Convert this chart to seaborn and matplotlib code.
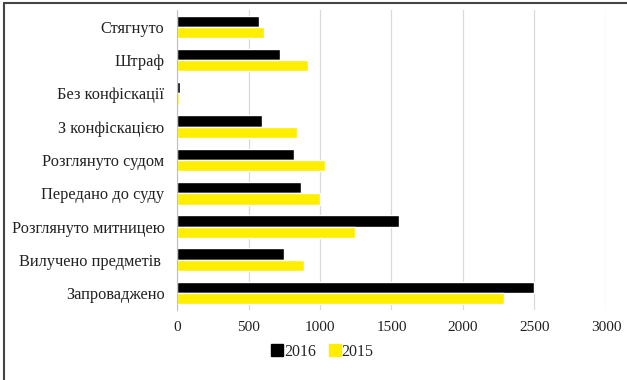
import pandas as pd
import numpy as np
import seaborn as sns
import matplotlib.pyplot as plt
from matplotlib.lines import Line2D

# Дані
categories = ['Стягнуто', 'Штраф', 'Без конфіскації', 'З конфіскацією', 'Розглянуто судом',
              'Передано до суду', 'Розглянуто митницею', 'Вилучено предметів ', 'Запроваджено']
values_2016 = [575, 720, 20, 595, 815, 865, 1555, 750, 2495]
values_2015 = [610, 918, 15, 838, 1035, 1000, 1247, 890, 2285]
years = ['2016', '2015']
colors = ['#000000', '#FFEE00']

df = pd.DataFrame({
    'Категорія': categories * 2,
    'Рік': ['2016'] * len(categories) + ['2015'] * len(categories),
    'Значення': values_2016 + values_2015,
})

sns.set_style("white")
plt.rcParams['font.family'] = ['Liberation Serif', 'DejaVu Serif']

fig = plt.figure(figsize=(6.27, 3.8), dpi=100)
ax = fig.add_axes([0.2823, 0.185, 0.6842, 0.788])

sns.barplot(data=df, y='Категорія', x='Значення', hue='Рік', hue_order=years,
            palette=colors, saturation=1, orient='h', width=0.68, order=categories, ax=ax,
            legend=False, errorbar=None)

ax.set_xlim(0, 3000)
ax.set_xticks(np.arange(0, 3001, 500))
ax.set_xlabel('')
ax.set_ylabel('')
ax.xaxis.grid(True, color='#d9d9d9', linewidth=0.9)
ax.set_axisbelow(True)
for s in ['top', 'right', 'bottom']:
    ax.spines[s].set_visible(False)
ax.spines['left'].set_color('#bfbfbf')
ax.tick_params(axis='both', length=0, colors='#222222')
ax.tick_params(axis='x', pad=8, labelsize=11)
ax.tick_params(axis='y', pad=9, labelsize=11.8)

handles = [Line2D([0], [0], marker='s', color='w', markerfacecolor=c, markeredgecolor=c,
                  markersize=8, label=y) for c, y in zip(colors, years)]
fig.legend(handles=handles, loc='center', bbox_to_anchor=(0.515, 0.074), ncol=2,
           frameon=False, fontsize=11.5, handlelength=0.6, handletextpad=0.1,
           columnspacing=0.9)

# рамка зверху і зліва
fig.add_artist(Line2D([0.006, 1.0], [0.992, 0.992], color='#444444', linewidth=1.5,
                      transform=fig.transFigure))
fig.add_artist(Line2D([0.006, 0.006], [0.0, 0.992], color='#444444', linewidth=1.5,
                      transform=fig.transFigure))

fig.savefig('out.png', dpi=100)
